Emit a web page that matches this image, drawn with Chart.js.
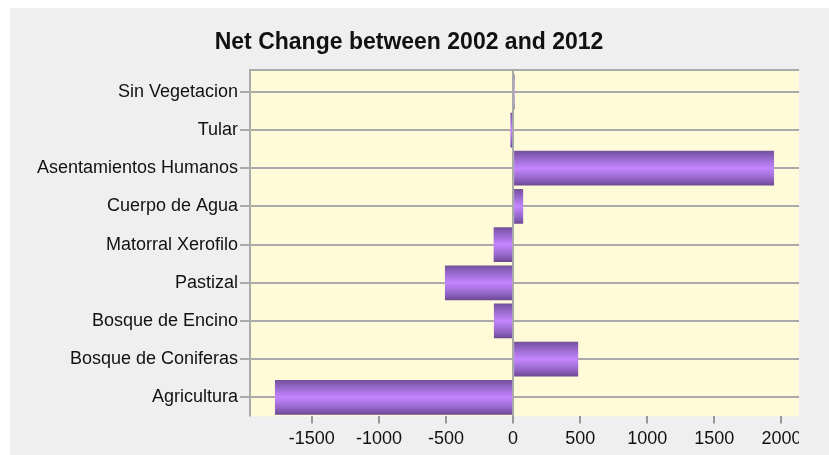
<!DOCTYPE html>
<html>
<head>
<meta charset="utf-8">
<script src="https://cdn.jsdelivr.net/npm/chart.js@4"></script>
<style>
  html, body { margin: 0; padding: 0; background: #ffffff; }
  #panel { position: absolute; left: 10px; top: 8px; width: 819px; height: 447px; background: #efefef; }
  #wrap { position: absolute; left: 0; top: 0; width: 789px; height: 447px; }
</style>
</head>
<body>
<div id="panel"><div id="wrap"><canvas id="netChart"></canvas></div></div>
<script>
// Land cover classes, top to bottom
const categories = [
    'Sin Vegetacion',
    'Tular',
    'Asentamientos Humanos',
    'Cuerpo de Agua',
    'Matorral Xerofilo',
    'Pastizal',
    'Bosque de Encino',
    'Bosque de Coniferas',
    'Agricultura'
];

// Net change per class
const netChange = [12, -20, 1945, 75, -145, -508, -143, 485, -1775];

// value axis ticks
const xTicks = [-1500, -1000, -500, 0, 500, 1000, 1500, 2000];

// axis range gets 5% margin on both ends
const lo = Math.min(...netChange);
const hi = Math.max(...netChange);
const margin = (hi - lo) * 0.05;

const GRID = '#aaaaaa';
const FONT = 'Liberation Sans, Arial, sans-serif';
const TOP_GAP = 2.7; // plot frame sits a little above the first category band

// pale yellow plot background, top/left frame lines and the zero line
const plotFrame = {
    id: 'plotFrame',
    beforeDraw(chart) {
        const { ctx, chartArea: a } = chart;
        const top = a.top - TOP_GAP;
        const x0 = Math.round(chart.scales.x.getPixelForValue(0));
        ctx.save();
        ctx.fillStyle = '#fffad7';
        ctx.fillRect(a.left, top, a.right - a.left, a.bottom - top);
        ctx.strokeStyle = GRID;
        ctx.lineWidth = 2;
        ctx.beginPath();
        ctx.moveTo(a.right, top);
        ctx.lineTo(a.left, top);
        ctx.lineTo(a.left, a.bottom);
        ctx.moveTo(x0, top);
        ctx.lineTo(x0, a.bottom);
        ctx.stroke();
        ctx.restore();
    }
};

// shaded purple fill across the bar thickness
function barFill(c) {
    const chart = c.chart;
    const y = chart.scales.y;
    if (!y || !chart.chartArea) return '#a070d8';
    const mid = y.getPixelForValue(c.index);
    const half = (chart.chartArea.bottom - chart.chartArea.top) / categories.length * 0.91 / 2;
    const g = chart.ctx.createLinearGradient(0, mid - half, 0, mid + half);
    g.addColorStop(0, '#73509b');
    g.addColorStop(0.18, '#9164c4');
    g.addColorStop(0.5, '#c586ff');
    g.addColorStop(0.82, '#9164c4');
    g.addColorStop(1, '#6c4892');
    return g;
}

new Chart(document.getElementById('netChart'), {
    type: 'bar',
    data: {
        labels: categories,
        datasets: [{
            data: netChange,
            backgroundColor: barFill,
            borderWidth: 0,
            categoryPercentage: 1,
            barPercentage: 0.91
        }]
    },
    options: {
        indexAxis: 'y',
        responsive: true,
        maintainAspectRatio: false,
        animation: false,
        layout: { padding: { left: 9, right: 0, top: 0, bottom: 0 } },
        plugins: {
            legend: { display: false },
            tooltip: { enabled: false },
            title: {
                display: true,
                text: 'Net Change between 2002 and 2012',
                color: '#111111',
                font: { family: FONT, size: 23, weight: 'bold' },
                padding: { top: 21, bottom: 16.2 }
            }
        },
        scales: {
            x: {
                type: 'linear',
                min: lo - margin,
                max: hi + margin,
                afterBuildTicks(scale) { scale.ticks = xTicks.map(v => ({ value: v })); },
                afterFit(scale) { scale.paddingLeft = 0; scale.paddingRight = 0; },
                border: { display: false },
                grid: {
                    drawOnChartArea: false,
                    color: '#999999',
                    lineWidth: 2,
                    tickLength: 7,
                    drawTicks: true
                },
                ticks: {
                    color: '#111111',
                    font: { family: FONT, size: 18 },
                    padding: 5,
                    maxRotation: 0,
                    autoSkip: false,
                    callback: v => String(v)
                }
            },
            y: {
                afterFit(scale) { scale.width = 231; },
                border: { display: false },
                grid: {
                    offset: false,
                    color: GRID,
                    lineWidth: 2,
                    tickLength: 10
                },
                ticks: {
                    color: '#111111',
                    font: { family: FONT, size: 18 },
                    padding: 2
                }
            }
        }
    },
    plugins: [plotFrame]
});
</script>
</body>
</html>
